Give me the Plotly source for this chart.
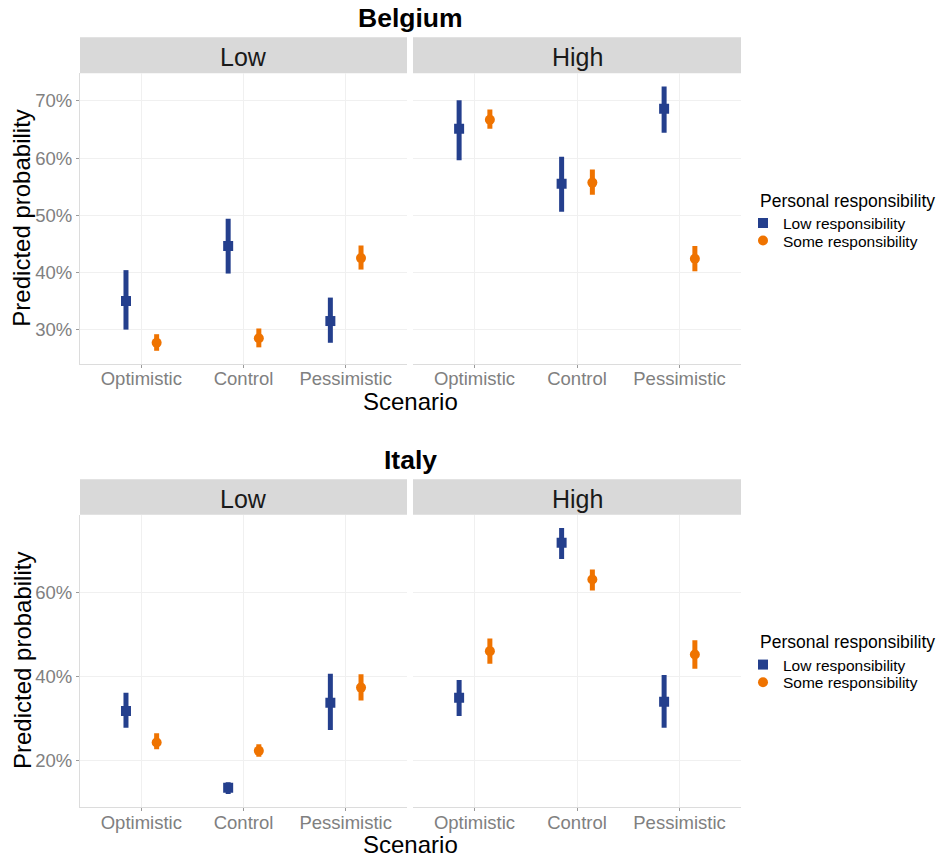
import plotly.graph_objects as go

# ---------------- data (percent) ----------------
scenarios = ["Optimistic", "Control", "Pessimistic"]
groups = ["Low responsibility", "Some responsibility"]
facets = ["Low", "High"]
countries = ["Belgium", "Italy"]

# Belgium, facet "Low"
be_lowf_lowr_est = [35.0, 44.6, 31.5]
be_lowf_lowr_lo = [30.0, 39.8, 27.7]
be_lowf_lowr_hi = [40.4, 49.4, 35.6]
be_lowf_some_est = [27.7, 28.5, 42.5]
be_lowf_some_lo = [26.3, 26.9, 40.5]
be_lowf_some_hi = [29.2, 30.2, 44.7]
# Belgium, facet "High"
be_highf_lowr_est = [65.1, 55.5, 68.6]
be_highf_lowr_lo = [59.6, 50.6, 64.4]
be_highf_lowr_hi = [70.1, 60.2, 72.5]
be_highf_some_est = [66.7, 55.7, 42.4]
be_highf_some_lo = [65.1, 53.6, 40.2]
be_highf_some_hi = [68.5, 58.0, 44.6]
# Italy, facet "Low"
it_lowf_lowr_est = [31.7, 13.4, 33.7]
it_lowf_lowr_lo = [27.7, 11.9, 27.2]
it_lowf_lowr_hi = [36.1, 14.7, 40.6]
it_lowf_some_est = [24.2, 22.2, 37.3]
it_lowf_some_lo = [22.6, 20.8, 34.2]
it_lowf_some_hi = [26.4, 23.8, 40.5]
# Italy, facet "High"
it_highf_lowr_est = [34.9, 71.9, 33.9]
it_highf_lowr_lo = [30.5, 68.0, 27.7]
it_highf_lowr_hi = [39.1, 75.4, 40.3]
it_highf_some_est = [46.0, 63.1, 45.2]
it_highf_some_lo = [43.0, 60.5, 41.8]
it_highf_some_hi = [49.0, 65.5, 48.6]

be_ticks = [30, 40, 50, 60, 70]
it_ticks = [20, 40, 60]

# ---------------- styling ----------------
W, H = 941, 857
FONT = "Liberation Sans, Arial, sans-serif"
COLORS = {"Low responsibility": "#243F8D", "Some responsibility": "#EF7300"}
SYMBOLS = {"Low responsibility": "square", "Some responsibility": "circle"}
SIZES = {"Low responsibility": 10, "Some responsibility": 10}
DODGE = {"Low responsibility": -0.15, "Some responsibility": 0.15}


def px_x(x):
    return x / W


def px_y(y):
    return 1 - y / H


data = {
    ("Belgium", "Low", "Low responsibility"): (be_lowf_lowr_est, be_lowf_lowr_lo, be_lowf_lowr_hi),
    ("Belgium", "Low", "Some responsibility"): (be_lowf_some_est, be_lowf_some_lo, be_lowf_some_hi),
    ("Belgium", "High", "Low responsibility"): (be_highf_lowr_est, be_highf_lowr_lo, be_highf_lowr_hi),
    ("Belgium", "High", "Some responsibility"): (be_highf_some_est, be_highf_some_lo, be_highf_some_hi),
    ("Italy", "Low", "Low responsibility"): (it_lowf_lowr_est, it_lowf_lowr_lo, it_lowf_lowr_hi),
    ("Italy", "Low", "Some responsibility"): (it_lowf_some_est, it_lowf_some_lo, it_lowf_some_hi),
    ("Italy", "High", "Low responsibility"): (it_highf_lowr_est, it_highf_lowr_lo, it_highf_lowr_hi),
    ("Italy", "High", "Some responsibility"): (it_highf_some_est, it_highf_some_lo, it_highf_some_hi),
}

# panel geometry (pixels)
facet_x = {"Low": (80, 407), "High": (413, 741)}
panel_y = {"Belgium": (73.3, 364), "Italy": (514.7, 807.3)}
strip_y = {"Belgium": (37.3, 73.3), "Italy": (479.3, 514.7)}
axis_idx = {("Belgium", "Low"): 1, ("Belgium", "High"): 2, ("Italy", "Low"): 3, ("Italy", "High"): 4}
legend_names = {("Belgium", "Low responsibility"): "legend", ("Belgium", "Some responsibility"): "legend2",
                ("Italy", "Low responsibility"): "legend3", ("Italy", "Some responsibility"): "legend4"}

fig = go.Figure()

for (country, facet, grp), (est, lo, hi) in data.items():
    k = axis_idx[(country, facet)]
    xs = [i + 1 + DODGE[grp] for i in range(len(scenarios))]
    fig.add_trace(go.Scatter(
        x=xs, y=est, mode="markers", name=grp,
        xaxis="x" if k == 1 else f"x{k}", yaxis="y" if k == 1 else f"y{k}",
        marker=dict(symbol=SYMBOLS[grp], size=SIZES[grp], color=COLORS[grp], line=dict(width=0)),
        error_y=dict(type="data", symmetric=False,
                     array=[h - e for h, e in zip(hi, est)],
                     arrayminus=[e - l for e, l in zip(est, lo)],
                     color=COLORS[grp], thickness=5, width=0),
        showlegend=(facet == "High"),
        legend=legend_names[(country, grp)],
        customdata=[[s, l, h] for s, l, h in zip(scenarios, lo, hi)],
        hovertemplate="%{customdata[0]}: %{y:.1f}% [%{customdata[1]:.1f}, %{customdata[2]:.1f}]<extra>" + grp + "</extra>",
    ))


def yrange(country):
    vals = []
    for (c, f, g), (est, lo, hi) in data.items():
        if c == country:
            vals += lo + hi
    mn, mx = min(vals), max(vals)
    pad = 0.05 * (mx - mn)
    return [mn - pad, mx + pad]


layout = dict(
    width=W, height=H, margin=dict(l=0, r=0, t=0, b=0),
    paper_bgcolor="white", plot_bgcolor="white",
    font=dict(family=FONT, color="#1A1A1A"),
    hovermode="closest",
)

TICKFONT = dict(family=FONT, size=18.5, color="#808080")
for (country, facet), k in axis_idx.items():
    xa = "xaxis" if k == 1 else f"xaxis{k}"
    ya = "yaxis" if k == 1 else f"yaxis{k}"
    x0, x1 = facet_x[facet]
    y0, y1 = panel_y[country]
    layout[xa] = dict(
        domain=[px_x(x0), px_x(x1)], anchor="y" if k == 1 else f"y{k}",
        range=[0.4, 3.6], tickmode="array", tickvals=[1, 2, 3], ticktext=scenarios,
        showgrid=True, gridcolor="#F0F0F0", gridwidth=1, zeroline=False,
        showline=True, linecolor="#DCDCDC", linewidth=1,
        ticks="outside", ticklen=3, tickcolor="#9A9A9A", tickwidth=1,
        ticklabelstandoff=-5,
        tickfont=TICKFONT, fixedrange=True,
    )
    ticks = be_ticks if country == "Belgium" else it_ticks
    ydict = dict(
        domain=[px_y(y1), px_y(y0)], anchor="x" if k == 1 else f"x{k}",
        range=yrange(country), tickmode="array", tickvals=ticks,
        ticktext=[f"{t}%" for t in ticks],
        showgrid=True, gridcolor="#F0F0F0", gridwidth=1, zeroline=False,
        tickfont=TICKFONT, fixedrange=True,
    )
    if facet == "Low":
        ydict.update(showline=True, linecolor="#DCDCDC", linewidth=1,
                     ticks="outside", ticklen=3, tickcolor="#9A9A9A", tickwidth=1,
                     showticklabels=True)
    else:
        ydict.update(showline=False, ticks="", showticklabels=False)
    layout[ya] = ydict

shapes = []
annotations = []
for country in countries:
    sy0, sy1 = strip_y[country]
    for facet in facets:
        x0, x1 = facet_x[facet]
        shapes.append(dict(type="rect", xref="paper", yref="paper",
                           x0=px_x(x0), x1=px_x(x1), y0=px_y(sy1), y1=px_y(sy0),
                           fillcolor="#D9D9D9", line=dict(width=0), layer="below"))
        annotations.append(dict(text=facet, xref="paper", yref="paper",
                                x=px_x((x0 + x1) / 2), y=px_y((sy0 + sy1) / 2 + 1.5),
                                xanchor="center", yanchor="middle", showarrow=False,
                                font=dict(family=FONT, size=25, color="#1A1A1A")))
    py0, py1 = panel_y[country]
    # country title
    annotations.append(dict(text=f"<b>{country}</b>", xref="paper", yref="paper",
                            x=px_x(410.5), y=px_y(sy0 - 19.5), xanchor="center", yanchor="middle",
                            showarrow=False, font=dict(family=FONT, size=26.5, color="black")))
    # x-axis title
    annotations.append(dict(text="Scenario", xref="paper", yref="paper",
                            x=px_x(410.5), y=px_y(py1 + 37.5), xanchor="center", yanchor="middle",
                            showarrow=False, font=dict(family=FONT, size=24, color="black")))
    # y-axis title
    annotations.append(dict(text="Predicted probability", xref="paper", yref="paper",
                            x=px_x(22), y=px_y((py0 + py1) / 2), xanchor="center", yanchor="middle",
                            textangle=-90, showarrow=False,
                            font=dict(family=FONT, size=24, color="black")))

# legends
leg_title_y = {"Belgium": 200.7, "Italy": 642.0}
leg_item_y = {("Belgium", "Low responsibility"): 223.3, ("Belgium", "Some responsibility"): 241.0,
              ("Italy", "Low responsibility"): 665.0, ("Italy", "Some responsibility"): 682.7}
for country in countries:
    annotations.append(dict(text="Personal responsibility", xref="paper", yref="paper",
                            x=px_x(758), y=px_y(leg_title_y[country]), xanchor="left", yanchor="middle",
                            showarrow=False, font=dict(family=FONT, size=17.5, color="black")))
for (country, grp), lname in legend_names.items():
    layout[lname] = dict(
        x=px_x(743), y=px_y(leg_item_y[(country, grp)]), xanchor="left", yanchor="middle",
        bgcolor="rgba(0,0,0,0)", borderwidth=0,
        font=dict(family=FONT, size=15.5, color="black"),
        itemclick=False, itemdoubleclick=False,
    )

layout["shapes"] = shapes
layout["annotations"] = annotations
fig.update_layout(**layout)

fig.write_html(
    "out.html",
    config={"displayModeBar": False},
    post_script="document.body.style.margin='0px';document.body.style.overflow='hidden';",
)
